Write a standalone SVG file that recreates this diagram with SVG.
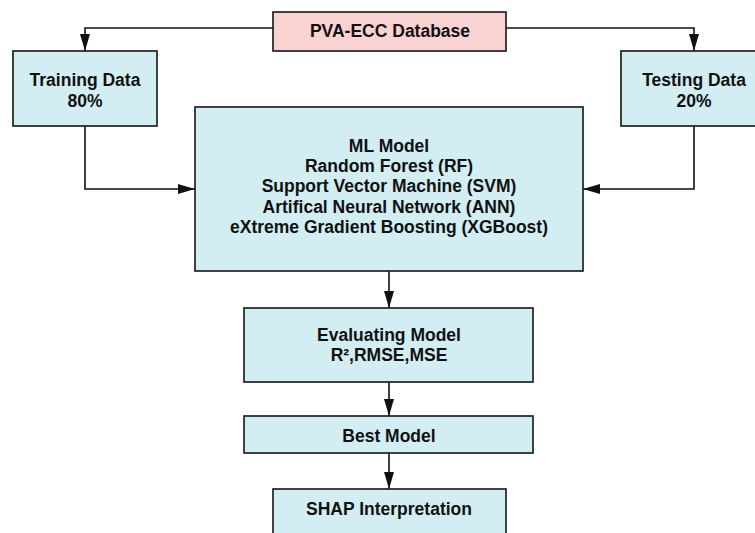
<svg xmlns="http://www.w3.org/2000/svg" width="755" height="533" viewBox="0 0 755 533">
  <style>
    .box { fill: #d3eef3; stroke: #222; stroke-width: 1.7; }
    .pink { fill: #f9d2d2; stroke: #222; stroke-width: 1.7; }
    .conn { fill: none; stroke: #111; stroke-width: 1.6; marker-end: url(#arrow); }
    text { font-family: "Liberation Sans", Arial, sans-serif; font-weight: bold; font-size: 17.5px; fill: #111; text-anchor: middle; }
  </style>
  <defs>
    <marker id="arrow" markerUnits="userSpaceOnUse" markerWidth="18" markerHeight="11" refX="17" refY="5" orient="auto">
      <path d="M0,0 L17,5 L0,10 z" fill="#111"/>
    </marker>
  </defs>
  <rect width="755" height="533" fill="#ffffff"/>

  <g id="connectors">
    <path class="conn" d="M273,28 H85 V51"/>
    <path class="conn" d="M506,28 H694 V51"/>
    <path class="conn" d="M85,126 V189 H195"/>
    <path class="conn" d="M694,126 V189 H583"/>
    <path class="conn" d="M389,271 V308"/>
    <path class="conn" d="M389,382 V416"/>
    <path class="conn" d="M389,453 V489"/>
  </g>

  <g id="database">
    <rect class="pink" x="273" y="12" width="233" height="39"/>
    <text x="390" y="37">PVA-ECC Database</text>
  </g>

  <g id="training">
    <rect class="box" x="13" y="51" width="144" height="75"/>
    <text x="85" y="86">Training Data</text>
    <text x="85" y="107">80%</text>
  </g>

  <g id="testing">
    <rect class="box" x="621" y="51" width="146" height="75"/>
    <text x="694" y="86">Testing Data</text>
    <text x="694" y="107">20%</text>
  </g>

  <g id="ml-model">
    <rect class="box" x="195" y="107" width="388" height="164"/>
    <text x="389" y="152">ML Model</text>
    <text x="389" y="172">Random Forest (RF)</text>
    <text x="389" y="192">Support Vector Machine (SVM)</text>
    <text x="389" y="212.5">Artifical Neural Network (ANN)</text>
    <text x="389" y="233">eXtreme Gradient Boosting (XGBoost)</text>
  </g>

  <g id="evaluating">
    <rect class="box" x="244" y="308" width="289" height="74"/>
    <text x="389" y="341">Evaluating Model</text>
    <text x="389" y="361">R²,RMSE,MSE</text>
  </g>

  <g id="best">
    <rect class="box" x="244" y="416" width="289" height="37"/>
    <text x="389" y="442">Best Model</text>
  </g>

  <g id="shap">
    <rect class="box" x="273" y="489" width="233" height="60"/>
    <text x="389" y="515">SHAP Interpretation</text>
  </g>
</svg>
